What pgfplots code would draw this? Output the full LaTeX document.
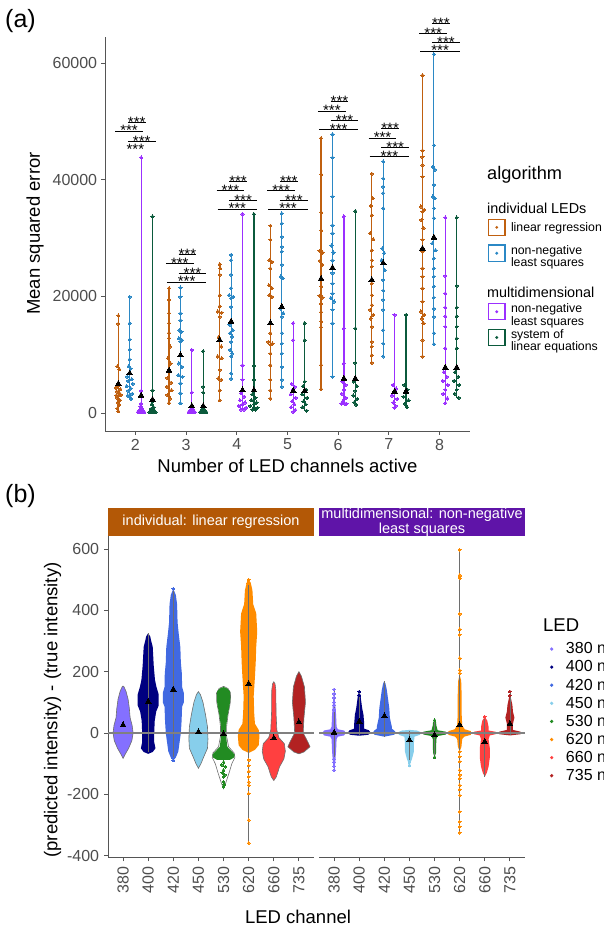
\documentclass[border=0pt]{standalone}
\usepackage{pgfplots}
\pgfplotsset{compat=1.18}
\usepackage{fontspec}
\setmainfont{Liberation Sans}
\definecolor{cOr}{HTML}{C0600F}
\definecolor{cBl}{HTML}{2B88C5}
\definecolor{cPu}{HTML}{9B30FF}
\definecolor{cGr}{HTML}{0B5A3C}
\definecolor{c380}{HTML}{8470FF}
\definecolor{c400}{HTML}{000080}
\definecolor{c420}{HTML}{4169E1}
\definecolor{c450}{HTML}{87CEEB}
\definecolor{c530}{HTML}{228B22}
\definecolor{c620}{HTML}{FF8C00}
\definecolor{c660}{HTML}{FF4040}
\definecolor{c735}{HTML}{B22222}
\definecolor{stripL}{HTML}{B35806}
\definecolor{stripR}{HTML}{5F14A8}
\definecolor{tgray}{HTML}{4D4D4D}
\definecolor{aline}{HTML}{555555}
\definecolor{vgray}{HTML}{6E6E6E}
\definecolor{zgray}{HTML}{808080}
\newcommand{\tf}{\fontsize{16}{19}\selectfont}
\newcommand{\ttl}{\fontsize{18.5}{22}\selectfont}
\newcommand{\lgf}{\fontsize{12.3}{11.2}\selectfont}
\pgfplotsset{
  algkey/.style={legend image code/.code={\draw[draw=#1, fill=none, line width=1.1pt] (0.55pt,-8.2pt) rectangle (16.95pt,8.2pt); \fill[fill=#1, draw=none] (8.75pt,0pt) circle (1.6pt); \path[draw=none, fill=none] (0pt,-12.9pt) rectangle (17.5pt,12.9pt);}},
  spacerkey/.style={legend image code/.code={\path[draw=none, fill=none] (0pt,-#1) rectangle (17.5pt,#1);}},
  ledkey/.style={legend image code/.code={\fill[fill=#1, draw=none] (3.7pt,0pt) circle (1.8pt); \path[draw=none, fill=none] (0pt,-9.05pt) rectangle (14pt,9.05pt);}},
  pts/.style={forget plot, color=#1, only marks, mark=*, mark size=1.6pt, mark options={draw=#1, fill=#1, line width=0pt}},
  vln/.style={forget plot, #1, line width=1.2pt},
  bpts/.style={forget plot, color=#1, only marks, mark=*, mark size=1.4pt, mark options={draw=#1, fill=#1, line width=0pt}},
  blob/.style={forget plot, fill=#1, draw=none},
  vblob/.style={forget plot, fill=#1, draw=vgray, line width=0.6pt},
  mtri/.style={forget plot, black, only marks, mark=triangle*, mark size=3.3pt, mark options={draw=black, fill=black, line width=0pt}},
}
\tikzset{st/.style={anchor=base, inner sep=0pt, font=\fontsize{15}{15}\selectfont, yshift=-4.9pt}}
\begin{document}
\begin{tikzpicture}
\path[use as bounding box] (0pt,0pt) rectangle (604pt,928pt);
% ---------------- panel (a)
\begin{axis}[
 at={(105pt,497pt)}, anchor=south west, scale only axis,
 width=365pt, height=394pt,
 xmin=1.4, xmax=8.6, ymin=-3.086, ymax=64.457,
 axis x line=bottom, axis y line=left,
 axis line style={-, draw=aline, line width=0.9pt},
 xtick={2,3,4,5,6,7,8}, xticklabels={2,3,4,5,6,7,8},
 ytick={0,20,40,60}, yticklabels={0,20000,40000,60000},
 tick align=outside, major tick length=3.7pt,
 tick style={draw=aline, line width=0.9pt},
 ticklabel style={font=\tf, text=tgray, inner sep=0pt},
 xticklabel shift=4pt, yticklabel shift=4pt,
 clip=false, unbounded coords=jump,
 legend style={at={(1.04932,0.5495)}, anchor=north west, draw=none, fill=none, inner sep=0pt, outer sep=0pt, row sep=0pt, nodes={inner sep=0pt, outer sep=0pt}, /tikz/every odd column/.append style={column sep=5.5pt}},
 legend cell align=left,
]
% vertical range lines
\addplot[vln=cOr] coordinates {(1.6625,0.3)(1.6625,16.7)(1.6625,nan)(2.6625,1.7)(2.6625,21.4)(2.6625,nan)(3.6625,2.2)(3.6625,25.5)(3.6625,nan)(4.6625,2.5)(4.6625,32.1)(4.6625,nan)(5.6625,4.1)(5.6625,47.1)(5.6625,nan)(6.6625,8.6)(6.6625,41.0)(6.6625,nan)(7.6625,9.7)(7.6625,57.9)};
\addplot[vln=cBl] coordinates {(1.8875,2.4)(1.8875,19.9)(1.8875,nan)(2.8875,1.7)(2.8875,21.5)(2.8875,nan)(3.8875,5.9)(3.8875,27.1)(3.8875,nan)(4.8875,4.5)(4.8875,34.2)(4.8875,nan)(5.8875,6.2)(5.8875,47.8)(5.8875,nan)(6.8875,9.7)(6.8875,43.1)(6.8875,nan)(7.8875,11.8)(7.8875,61.5)};
\addplot[vln=cPu] coordinates {(2.1125,0.15)(2.1125,43.8)(2.1125,nan)(3.1125,0.15)(3.1125,10.8)(3.1125,nan)(4.1125,0.6)(4.1125,34.1)(4.1125,nan)(5.1125,0.2)(5.1125,15.4)(5.1125,nan)(6.1125,1.6)(6.1125,33.7)(6.1125,nan)(7.1125,0.9)(7.1125,16.8)(7.1125,nan)(8.1125,1.7)(8.1125,33.5)};
\addplot[vln=cGr] coordinates {(2.3375,0.15)(2.3375,33.7)(2.3375,nan)(3.3375,0.15)(3.3375,10.6)(3.3375,nan)(4.3375,0.6)(4.3375,34.1)(4.3375,nan)(5.3375,0.4)(5.3375,15.4)(5.3375,nan)(6.3375,1.4)(6.3375,34.6)(6.3375,nan)(7.3375,1.0)(7.3375,16.8)(7.3375,nan)(8.3375,2.6)(8.3375,33.5)};
% points
\addplot[pts=cOr] coordinates {
(1.6625,16.7)(1.6625,15.3)(1.6425,8.0)(1.6825,7.5)(1.6125,4.3)(1.6525,4.6)(1.7025,4.1)(1.6325,3.7)(1.6825,3.4)(1.6225,3.0)(1.6625,3.0)(1.7125,3.1)(1.6425,2.6)(1.6925,2.2)(1.6525,1.8)(1.6825,1.4)(1.6425,0.8)(1.6625,0.3)
(2.6625,21.4)(2.6625,19.4)(2.6625,17.1)(2.6625,15.4)(2.6625,13.7)(2.6625,12.8)(2.6825,11.4)(2.6425,9.4)(2.6925,8.5)(2.6325,6.0)(2.7025,5.2)(2.6225,4.5)(2.7125,3.9)(2.6325,3.1)(2.6825,2.5)(2.6625,1.7)
(3.6625,25.5)(3.6725,24.8)(3.6625,23.7)(3.6625,20.2)(3.6625,18.3)(3.6225,17.4)(3.7025,17.2)(3.6625,16.5)(3.6425,13.0)(3.6925,11.4)(3.6225,9.7)(3.7025,9.4)(3.6625,7.4)(3.6325,5.9)(3.6925,5.7)(3.6625,3.9)(3.6625,2.2)
(4.6625,32.1)(4.6625,29.7)(4.6425,26.2)(4.6925,25.9)(4.6625,24.8)(4.6325,21.9)(4.6925,21.4)(4.6425,20.2)(4.6925,19.9)(4.6625,13.7)(4.6225,12.2)(4.7025,11.9)(4.6625,11.7)(4.6625,10.2)(4.6625,8.2)(4.6625,5.7)(4.6625,3.9)(4.6625,2.5)
(5.6625,47.1)(5.6625,40.9)(5.6625,34.4)(5.6625,31.3)(5.6325,27.8)(5.6925,27.5)(5.6425,26.1)(5.6825,25.4)(5.6625,21.7)(5.6325,20.1)(5.6925,19.8)(5.6625,18.7)(5.6625,17.3)(5.6625,15.7)(5.6625,14.7)(5.6625,8.2)(5.6625,4.1)
(6.6625,41.0)(6.6825,36.8)(6.6425,35.5)(6.6625,33.9)(6.6325,30.8)(6.6925,29.8)(6.6625,27.9)(6.6625,26.2)(6.6625,25.1)(6.6625,22.2)(6.6625,20.2)(6.6625,18.5)(6.6325,17.7)(6.6925,16.8)(6.6425,16.2)(6.6625,14.8)(6.6625,12.2)(6.6625,11.4)(6.6625,9.9)(6.6625,8.6)
(7.6625,57.9)(7.6625,45.0)(7.6625,43.9)(7.6625,42.5)(7.6625,40.5)(7.6325,35.4)(7.6925,34.8)(7.6625,34.5)(7.6425,33.1)(7.6825,31.7)(7.6625,29.7)(7.6625,27.7)(7.6625,24.8)(7.6625,23.4)(7.6625,21.4)(7.6625,19.1)(7.6325,17.4)(7.6925,16.8)(7.6525,16.2)(7.6825,15.4)(7.6625,12.5)(7.6625,9.7)};
\addplot[pts=cBl] coordinates {
(1.8875,19.9)(1.8875,15.4)(1.8875,12.6)(1.8875,10.9)(1.8875,9.2)(1.8675,8.0)(1.9075,7.6)(1.8375,6.2)(1.9275,5.8)(1.8575,5.5)(1.9475,5.0)(1.8275,4.6)(1.9075,4.2)(1.8575,3.8)(1.9375,3.3)(1.8475,3.0)(1.8975,2.7)(1.9175,2.4)
(2.8875,21.5)(2.8875,19.9)(2.8875,17.1)(2.8875,15.9)(2.8675,14.2)(2.9075,13.9)(2.8575,12.8)(2.9175,12.5)(2.8875,12.3)(2.8575,8.5)(2.9175,7.9)(2.8475,6.5)(2.9275,6.2)(2.8875,5.1)(2.8875,3.4)(2.8875,1.7)
(3.8875,27.1)(3.8875,26.2)(3.8875,23.7)(3.8875,21.4)(3.8475,20.2)(3.9275,19.9)(3.8875,19.7)(3.8875,18.2)(3.8575,15.1)(3.9175,14.2)(3.8675,13.7)(3.9075,13.1)(3.8875,12.2)(3.8675,10.8)(3.9075,10.2)(3.8875,9.7)(3.8875,6.8)(3.8875,5.9)
(4.8875,34.2)(4.8875,32.5)(4.8875,30.2)(4.8875,28.5)(4.8875,27.7)(4.8875,25.4)(4.8675,23.4)(4.9075,23.1)(4.8575,17.9)(4.9175,17.1)(4.8875,16.5)(4.8875,13.7)(4.8875,11.9)(4.8875,10.2)(4.8875,7.9)(4.8875,5.7)(4.8875,4.5)
(5.8875,47.8)(5.8875,43.8)(5.8875,37.1)(5.8875,32.2)(5.8875,30.8)(5.8675,28.7)(5.9075,27.5)(5.8875,26.2)(5.8875,24.0)(5.8875,22.2)(5.8875,20.5)(5.8575,19.7)(5.9175,19.1)(5.8875,17.7)(5.8875,15.4)(5.8875,6.2)
(6.8875,43.1)(6.8875,40.2)(6.8875,38.8)(6.8875,37.7)(6.8875,35.1)(6.8675,28.2)(6.9075,27.4)(6.8575,26.2)(6.9175,24.5)(6.8875,22.8)(6.8875,21.0)(6.8875,19.4)(6.8875,17.7)(6.8875,14.2)(6.8875,11.9)(6.8875,9.7)
(7.8875,61.5)(7.8875,45.9)(7.8675,42.2)(7.9075,41.7)(7.8875,39.1)(7.8675,37.1)(7.9075,36.8)(7.8875,35.1)(7.8875,33.4)(7.8575,29.1)(7.9175,27.9)(7.8875,26.5)(7.8875,24.8)(7.8875,23.4)(7.8875,21.7)(7.8875,19.8)(7.8875,17.9)(7.8875,16.5)(7.8875,13.7)(7.8875,11.8)};
\addplot[pts=cPu] coordinates {
(2.1125,43.8)(2.1125,3.8)(2.1125,1.6)(2.1,1.1)(2.125,0.8)(2.09,0.5)(2.135,0.5)(2.07,0.3)(2.1125,0.3)(2.155,0.3)(2.05,0.15)(2.09,0.15)(2.135,0.15)(2.175,0.15)
(3.1125,10.8)(3.1125,3.5)(3.1125,1.0)(3.09,0.6)(3.135,0.6)(3.07,0.3)(3.1125,0.3)(3.155,0.3)(3.05,0.15)(3.09,0.15)(3.135,0.15)(3.175,0.15)
(4.1125,34.1)(4.1125,8.2)(4.1125,5.7)(4.0825,3.4)(4.1425,2.8)(4.0625,2.2)(4.1625,1.8)(4.1125,1.5)(4.0425,1.2)(4.1825,0.9)(4.0825,0.6)(4.1425,0.6)
(5.1125,15.4)(5.1125,12.5)(5.0825,5.0)(5.1425,4.5)(5.1125,4.0)(5.0625,3.2)(5.1625,2.6)(5.0925,2.0)(5.1325,1.5)(5.0725,1.0)(5.1525,0.5)(5.1125,0.2)
(6.1125,33.7)(6.1125,14.5)(6.1125,8.5)(6.0825,5.4)(6.1425,4.8)(6.1125,4.0)(6.0725,3.3)(6.1525,2.6)(6.0925,2.0)(6.1325,1.6)(6.0625,1.6)(6.1625,1.6)
(7.1125,16.8)(7.0825,4.8)(7.1425,4.2)(7.1125,3.6)(7.0625,3.0)(7.1625,2.4)(7.0925,1.8)(7.1325,1.2)(7.1125,0.9)
(8.1125,33.5)(8.1125,23.5)(8.1125,20.5)(8.1125,18.1)(8.1125,16.6)(8.1125,14.8)(8.1125,11.1)(8.0825,7.0)(8.1425,6.2)(8.0625,5.5)(8.1625,4.8)(8.1125,4.0)(8.0725,3.3)(8.1525,2.5)(8.1125,1.7)};
\addplot[pts=cGr] coordinates {
(2.3375,33.7)(2.3375,3.9)(2.3375,2.0)(2.32,1.5)(2.355,1.0)(2.31,0.7)(2.365,0.5)(2.295,0.3)(2.3375,0.3)(2.38,0.3)(2.275,0.15)(2.315,0.15)(2.36,0.15)(2.40,0.15)
(3.3375,10.6)(3.3375,4.5)(3.3375,3.5)(3.3375,1.0)(3.315,0.6)(3.36,0.6)(3.295,0.3)(3.3375,0.3)(3.38,0.3)(3.275,0.15)(3.315,0.15)(3.36,0.15)(3.40,0.15)
(4.3375,34.1)(4.3375,8.1)(4.3375,5.7)(4.3075,3.2)(4.3675,2.6)(4.2875,2.2)(4.3875,1.8)(4.3375,1.5)(4.2675,1.2)(4.4075,0.9)(4.3075,0.6)(4.3675,0.6)
(5.3375,15.4)(5.3375,12.5)(5.3375,5.4)(5.3075,4.6)(5.3675,4.0)(5.2875,3.2)(5.3875,2.6)(5.3175,2.0)(5.3575,1.5)(5.2975,1.0)(5.3775,0.4)
(6.3375,34.6)(6.3375,14.5)(6.3375,8.6)(6.3075,5.4)(6.3675,4.6)(6.3375,3.8)(6.2975,3.0)(6.3775,2.4)(6.3175,1.8)(6.3575,1.4)
(7.3375,16.8)(7.3075,4.8)(7.3675,4.0)(7.3375,3.4)(7.2875,2.8)(7.3875,2.2)(7.3175,1.6)(7.3575,1.0)
(8.3375,33.5)(8.3375,21.8)(8.3375,18.1)(8.3375,16.6)(8.3375,14.8)(8.3375,12.8)(8.3375,11.1)(8.3075,7.0)(8.3675,6.2)(8.2875,5.5)(8.3875,4.8)(8.3375,4.0)(8.2975,3.3)(8.3775,2.6)};
% means
\addplot[mtri] coordinates {(1.6625,5.0)(2.6625,7.3)(3.6625,12.5)(4.6625,15.4)(5.6625,23.0)(6.6625,22.8)(7.6625,28.2)
(1.8875,6.8)(2.8875,9.9)(3.8875,15.7)(4.8875,18.2)(5.8875,24.9)(6.8875,25.7)(7.8875,30.1)
(2.1125,3.0)(3.1125,1.2)(4.1125,3.9)(5.1125,3.8)(6.1125,5.9)(7.1125,3.7)(8.1125,7.8)
(2.3375,2.3)(3.3375,1.2)(4.3375,3.9)(5.3375,3.8)(6.3375,5.9)(7.3375,3.7)(8.3375,7.8)};
% significance brackets
\addplot[forget plot, black, line width=0.9pt] coordinates {
(1.85,49.77)(2.20,49.77)(2,nan)(1.60,48.34)(2.15,48.34)(2,nan)(1.85,46.58)(2.40,46.58)(2,nan)
(2.85,27.21)(3.20,27.21)(3,nan)(2.60,25.60)(3.15,25.60)(3,nan)(2.85,23.95)(3.40,23.95)(3,nan)(2.62,22.46)(3.40,22.46)(3,nan)
(3.85,39.65)(4.20,39.65)(4,nan)(3.60,38.11)(4.15,38.11)(4,nan)(3.85,36.46)(4.40,36.46)(4,nan)(3.62,34.97)(4.40,34.97)(4,nan)
(4.85,39.65)(5.20,39.65)(5,nan)(4.60,38.11)(5.15,38.11)(5,nan)(4.85,36.46)(5.40,36.46)(5,nan)(4.62,34.97)(5.40,34.97)(5,nan)
(5.85,53.37)(6.20,53.37)(6,nan)(5.60,51.77)(6.15,51.77)(6,nan)(5.85,50.11)(6.40,50.11)(6,nan)(5.62,48.57)(6.40,48.57)(6,nan)
(6.85,48.74)(7.20,48.74)(7,nan)(6.60,47.14)(7.15,47.14)(7,nan)(6.85,45.55)(7.40,45.55)(7,nan)(6.62,44.01)(7.40,44.01)(7,nan)
(7.85,66.74)(8.20,66.74)(8,nan)(7.60,65.09)(8.15,65.09)(8,nan)(7.85,63.48)(8.40,63.48)(8,nan)(7.62,62.06)(8.40,62.06)};
\node[st] at (axis cs:2.025,49.77) {***}; \node[st] at (axis cs:1.875,48.34) {***}; \node[st] at (axis cs:2.125,46.58) {***}; \node[st] at (axis cs:2.0,45.09) {***};
\node[st] at (axis cs:3.025,27.21) {***}; \node[st] at (axis cs:2.875,25.60) {***}; \node[st] at (axis cs:3.125,23.95) {***}; \node[st] at (axis cs:3.01,22.46) {***};
\node[st] at (axis cs:4.025,39.65) {***}; \node[st] at (axis cs:3.875,38.11) {***}; \node[st] at (axis cs:4.125,36.46) {***}; \node[st] at (axis cs:4.01,34.97) {***};
\node[st] at (axis cs:5.025,39.65) {***}; \node[st] at (axis cs:4.875,38.11) {***}; \node[st] at (axis cs:5.125,36.46) {***}; \node[st] at (axis cs:5.01,34.97) {***};
\node[st] at (axis cs:6.025,53.37) {***}; \node[st] at (axis cs:5.875,51.77) {***}; \node[st] at (axis cs:6.125,50.11) {***}; \node[st] at (axis cs:6.01,48.57) {***};
\node[st] at (axis cs:7.025,48.74) {***}; \node[st] at (axis cs:6.875,47.14) {***}; \node[st] at (axis cs:7.125,45.55) {***}; \node[st] at (axis cs:7.01,44.01) {***};
\node[st] at (axis cs:8.025,66.74) {***}; \node[st] at (axis cs:7.875,65.09) {***}; \node[st] at (axis cs:8.125,63.48) {***}; \node[st] at (axis cs:8.01,62.06) {***};
% legend
\addlegendimage{algkey=cOr}\addlegendentry{\lgf linear regression}
\addlegendimage{algkey=cBl}\addlegendentry{\parbox[c]{110pt}{\lgf non-negative\\least squares}}
\addlegendimage{spacerkey=16.35pt}\addlegendentry{}
\addlegendimage{algkey=cPu}\addlegendentry{\parbox[c]{110pt}{\lgf non-negative\\least squares}}
\addlegendimage{algkey=cGr}\addlegendentry{\parbox[c]{110pt}{\lgf system of\\linear equations}}
\end{axis}
% ---------------- panel (b) left
\begin{axis}[
 at={(108pt,70.2pt)}, anchor=south west, scale only axis,
 width=206pt, height=321.4pt,
 xmin=0.4, xmax=8.6, ymin=-407, ymax=641,
 axis x line=bottom, axis y line=left,
 axis line style={-, draw=aline, line width=0.9pt},
 xtick={1,2,3,4,5,6,7,8}, xticklabels={380,400,420,450,530,620,660,735},
 ytick={-400,-200,0,200,400,600}, yticklabels={-400,-200,0,200,400,600},
 tick align=outside, major tick length=3.7pt,
 tick style={draw=aline, line width=0.9pt},
 ticklabel style={font=\tf, text=tgray, inner sep=0pt},
 xticklabel style={rotate=90, anchor=east},
 xticklabel shift=5pt, yticklabel shift=5pt,
]
\addplot[vblob=c380] coordinates {(1,-83)(1.08,-70)(1.22,-50)(1.35,-25)(1.4,0)(1.36,25)(1.28,50)(1.25,80)(1.2,110)(1.12,135)(1.04,150)(1,153)(0.96,150)(0.88,135)(0.8,110)(0.75,80)(0.72,50)(0.64,25)(0.6,0)(0.65,-25)(0.78,-50)(0.92,-70)} --cycle;
\addplot[blob=c400] coordinates {(2,-68)(2.18,-62)(2.29,-50)(2.24,-30)(2.24,0)(2.26,40)(2.32,70)(2.42,90)(2.42,125)(2.33,150)(2.27,173)(2.22,220)(2.18,281)(2.12,300)(2.08,315)(2,325)(1.92,315)(1.88,300)(1.82,281)(1.78,220)(1.73,173)(1.67,150)(1.58,125)(1.58,90)(1.68,70)(1.74,40)(1.76,0)(1.76,-30)(1.71,-50)(1.82,-62)} --cycle;
\addplot[blob=c420] coordinates {(3,-90)(3.1,-80)(3.2,-60)(3.25,-30)(3.3,0)(3.33,40)(3.35,86)(3.42,100)(3.42,130)(3.35,150)(3.34,194)(3.3,230)(3.28,280)(3.22,320)(3.17,360)(3.15,420)(3.1,450)(3,470)(2.9,450)(2.85,420)(2.83,360)(2.78,320)(2.72,280)(2.7,230)(2.66,194)(2.65,150)(2.58,130)(2.58,100)(2.65,86)(2.67,40)(2.7,0)(2.75,-30)(2.8,-60)(2.9,-80)} --cycle;
\addplot[vblob=c450] coordinates {(4,-115)(4.1,-100)(4.2,-80)(4.36,-50)(4.38,-20)(4.36,20)(4.28,60)(4.18,100)(4.08,125)(4,135)(3.92,125)(3.82,100)(3.72,60)(3.64,20)(3.62,-20)(3.64,-50)(3.8,-80)(3.9,-100)} --cycle;
\addplot[forget plot, draw=vgray, line width=0.6pt] coordinates {(5,-182)(5.1,-160)(5.22,-130)(5.33,-100)(5.45,-80)(5.42,-65)(5.2,-45)(5.12,-10)(5.12,20)(5.18,60)(5.27,100)(5.28,130)(5.18,145)(5,152)(4.82,145)(4.72,130)(4.73,100)(4.82,60)(4.88,20)(4.88,-10)(4.8,-45)(4.58,-65)(4.55,-80)(4.67,-100)(4.78,-130)(4.9,-160)} --cycle;
\addplot[blob=c530] coordinates {(5.25,-88)(5.42,-80)(5.44,-70)(5.3,-58)(5.15,-45)(5.1,-10)(5.1,20)(5.17,60)(5.24,90)(5.27,110)(5.26,135)(5.15,145)(5,150)(4.85,145)(4.74,135)(4.73,110)(4.76,90)(4.83,60)(4.9,20)(4.9,-10)(4.85,-45)(4.7,-58)(4.56,-70)(4.58,-80)(4.75,-88)} --cycle;
\addplot[blob=c620] coordinates {(6,-65)(6.25,-55)(6.4,-40)(6.43,-10)(6.4,10)(6.25,30)(6.22,64)(6.2,120)(6.25,184)(6.28,230)(6.3,281)(6.34,330)(6.3,390)(6.18,420)(6.15,465)(6.08,490)(6,500)(5.92,490)(5.85,465)(5.82,420)(5.7,390)(5.66,330)(5.7,281)(5.72,230)(5.75,184)(5.8,120)(5.78,64)(5.75,30)(5.6,10)(5.57,-10)(5.6,-40)(5.75,-55)} --cycle;
\addplot[vblob=c660] coordinates {(7,-155)(7.1,-143)(7.23,-110)(7.4,-85)(7.46,-60)(7.42,-35)(7.2,-15)(7.12,10)(7.09,64)(7.08,140)(7.05,160)(7,167)(6.95,160)(6.92,140)(6.91,64)(6.88,10)(6.8,-15)(6.58,-35)(6.54,-60)(6.6,-85)(6.77,-110)(6.9,-143)} --cycle;
\addplot[vblob=c735] coordinates {(8,-68)(8.2,-62)(8.44,-45)(8.36,-30)(8.17,0)(8.2,50)(8.26,100)(8.22,150)(8.1,185)(8,200)(7.9,185)(7.78,150)(7.74,100)(7.8,50)(7.83,0)(7.64,-30)(7.56,-45)(7.8,-62)} --cycle;
\addplot[forget plot, draw=vgray, line width=0.7pt, unbounded coords=jump] coordinates {(2,-62)(2,325)(2,nan)(3,-90)(3,470)(3,nan)(6,-359)(6,500)};
\addplot[bpts=c530] coordinates {(5,-95)(4.93,-104)(5.07,-110)(5,-121)(4.95,-130)(5.05,-137)(5,-143)(5,-159)(5.03,-168)(5,-175)};
\addplot[bpts=c620] coordinates {(6,-88)(6,-106)(6,-125)(6,-143)(6,-160)(6,-170)(6,-197)(6,-284)(6,-359)(6,500)(5.97,488)};
\addplot[bpts=c420] coordinates {(3,470)(3,-90)(2.97,-80)};
\addplot[forget plot, zgray, line width=1.1pt] coordinates {(0.4,0)(8.6,0)};
\addplot[mtri] coordinates {(1,26)(2,102)(3,142)(4,3)(5,-3)(6,160)(7,-17)(8,35)};
\end{axis}
% ---------------- panel (b) right
\begin{axis}[
 at={(319pt,70.2pt)}, anchor=south west, scale only axis,
 width=206pt, height=321.4pt,
 xmin=0.4, xmax=8.6, ymin=-407, ymax=641,
 axis x line=bottom, axis y line=none,
 axis line style={-, draw=aline, line width=0.9pt},
 xtick={1,2,3,4,5,6,7,8}, xticklabels={380,400,420,450,530,620,660,735},
 ytick=\empty,
 tick align=outside, major tick length=3.7pt,
 tick style={draw=aline, line width=0.9pt},
 ticklabel style={font=\tf, text=tgray, inner sep=0pt},
 xticklabel style={rotate=90, anchor=east},
 xticklabel shift=5pt,
 legend style={at={(1.11165,0.6777)}, anchor=north west, draw=none, fill=none, inner sep=0pt, outer sep=0pt, row sep=0pt, nodes={inner sep=0pt, outer sep=0pt}, /tikz/every odd column/.append style={column sep=4pt}},
 legend cell align=left,
]
\addplot[blob=c380] coordinates {(1,-121)(1.04,-100)(1.08,-60)(1.1,-20)(1.15,-12)(1.4,-8)(1.44,-3)(1.44,3)(1.4,8)(1.15,12)(1.1,20)(1.08,60)(1.04,100)(1,142)(0.96,100)(0.92,60)(0.9,20)(0.85,12)(0.6,8)(0.56,3)(0.56,-3)(0.6,-8)(0.85,-12)(0.9,-20)(0.92,-60)(0.96,-100)} --cycle;
\addplot[blob=c400] coordinates {(2,-9)(2.35,-6)(2.43,-2)(2.43,4)(2.38,9)(2.2,14)(2.2,30)(2.17,60)(2.12,80)(2.07,110)(2.05,125)(2,135)(1.95,125)(1.93,110)(1.88,80)(1.83,60)(1.8,30)(1.8,14)(1.62,9)(1.57,4)(1.57,-2)(1.65,-6)} --cycle;
\addplot[blob=c420] coordinates {(3,-12)(3.38,-6)(3.44,-2)(3.44,4)(3.38,9)(3.3,14)(3.3,20)(3.22,50)(3.2,80)(3.15,110)(3.1,140)(3.05,160)(3,170)(2.95,160)(2.9,140)(2.85,110)(2.8,80)(2.78,50)(2.7,20)(2.7,14)(2.62,9)(2.56,4)(2.56,-2)(2.62,-6)} --cycle;
\addplot[blob=c450] coordinates {(4,-112)(4.05,-95)(4.1,-85)(4.18,-60)(4.18,-30)(4.2,-12)(4.42,-6)(4.44,3)(4.3,8)(4,10)(3.7,8)(3.56,3)(3.58,-6)(3.8,-12)(3.82,-30)(3.82,-60)(3.9,-85)(3.95,-95)} --cycle;
\addplot[blob=c530] coordinates {(5,-79)(5.06,-65)(5.07,-20)(5.12,-10)(5.45,-5)(5.45,4)(5.12,9)(5.07,25)(5.06,35)(5,42)(4.94,35)(4.93,25)(4.88,9)(4.55,4)(4.55,-5)(4.88,-10)(4.93,-20)(4.94,-65)} --cycle;
\addplot[blob=c620] coordinates {(6,-60)(6.07,-45)(6.1,-20)(6.18,-12)(6.45,-6)(6.45,6)(6.2,12)(6.1,25)(6.08,60)(6.08,120)(6.06,170)(6,190)(5.94,170)(5.92,120)(5.92,60)(5.9,25)(5.8,12)(5.55,6)(5.55,-6)(5.82,-12)(5.9,-20)(5.93,-45)} --cycle;
\addplot[blob=c660] coordinates {(7,-143)(7.08,-130)(7.15,-110)(7.2,-80)(7.2,-50)(7.15,-20)(7.2,-8)(7.43,-4)(7.43,4)(7.15,8)(7.15,20)(7.1,40)(7,53)(6.9,40)(6.85,20)(6.85,8)(6.57,4)(6.57,-4)(6.8,-8)(6.85,-20)(6.8,-50)(6.8,-80)(6.85,-110)(6.92,-130)} --cycle;
\addplot[blob=c735] coordinates {(8,-8)(8.43,-4)(8.43,4)(8.12,10)(8.12,30)(8.18,50)(8.12,70)(8.1,90)(8.05,110)(8,125)(7.95,110)(7.9,90)(7.88,70)(7.82,50)(7.88,30)(7.88,10)(7.57,4)(7.57,-4)} --cycle;
\addplot[forget plot, draw=vgray, line width=0.7pt, unbounded coords=jump] coordinates {(1,-121)(1,142)(1,nan)(2,-7)(2,135)(2,nan)(3,-12)(3,170)(3,nan)(4,-112)(4,8)(4,nan)(5,-79)(5,42)(5,nan)(6,-325)(6,597)(6,nan)(7,-143)(7,53)(7,nan)(8,-7)(8,135)};
\addplot[bpts=c380] coordinates {(1,142)(1,128)(1,115)(1,100)(1,90)(1,75)(1,-85)(1,-95)(1,-108)(1,-121)};
\addplot[bpts=c400] coordinates {(2,135)(2,122)};
\addplot[bpts=c450] coordinates {(4,-95)(4,-105)};
\addplot[bpts=c530] coordinates {(5,42)(5,-79)};
\addplot[bpts=c620] coordinates {(6,597)(6,515)(6,510)(6,505)(6,388)(6,338)(6,320)(6,244)(6,205)(6,195)(6,-61)(6,-77)(6,-93)(6,-121)(6,-137)(6,-148)(6,-170)(6,-184)(6,-203)(6,-257)(6,-290)(6,-306)(6,-325)};
\addplot[bpts=c660] coordinates {(7,53)};
\addplot[bpts=c735] coordinates {(8,135)(8,122)};
\addplot[forget plot, zgray, line width=1.1pt] coordinates {(0.4,0)(8.6,0)};
\addplot[mtri] coordinates {(1,1)(2,37)(3,55)(4,-23)(5,-7)(6,26)(7,-29)(8,30)};
\addlegendimage{ledkey=c380}\addlegendentry{\tf 380 nm}
\addlegendimage{ledkey=c400}\addlegendentry{\tf 400 nm}
\addlegendimage{ledkey=c420}\addlegendentry{\tf 420 nm}
\addlegendimage{ledkey=c450}\addlegendentry{\tf 450 nm}
\addlegendimage{ledkey=c530}\addlegendentry{\tf 530 nm}
\addlegendimage{ledkey=c620}\addlegendentry{\tf 620 nm}
\addlegendimage{ledkey=c660}\addlegendentry{\tf 660 nm}
\addlegendimage{ledkey=c735}\addlegendentry{\tf 735 nm}
\end{axis}
% strips
\fill[stripL] (108pt,392pt) rectangle (314pt,420pt);
\fill[stripR] (319pt,392pt) rectangle (525pt,420pt);
\node[text=white, inner sep=0pt, font=\fontsize{14.5}{13}\selectfont] at (211pt,406.3pt) {individual: linear regression};
\node[text=white, inner sep=0pt, align=center, font=\fontsize{14.5}{13}\selectfont] at (422pt,405.5pt) {multidimensional: non-negative\\least squares};
% texts
\node[anchor=west, inner sep=0pt, font=\fontsize{25}{30}\selectfont] at (5pt,906.5pt) {(a)};
\node[anchor=west, inner sep=0pt, font=\fontsize{25}{30}\selectfont] at (5pt,432pt) {(b)};
\node[rotate=90, inner sep=0pt, font=\ttl] at (35pt,694.5pt) {Mean squared error};
\node[inner sep=0pt, font=\ttl] at (287.5pt,462pt) {Number of LED channels active};
\node[rotate=90, inner sep=0pt, font=\ttl] at (52.5pt,218pt) {(predicted intensity) - (true intensity)};
\node[inner sep=0pt, font=\ttl] at (298pt,11.3pt) {LED channel};
\node[anchor=west, inner sep=0pt, font=\fontsize{18.2}{22}\selectfont] at (487pt,753pt) {algorithm};
\node[anchor=west, inner sep=0pt, font=\fontsize{14.4}{17}\selectfont] at (487pt,720pt) {individual LEDs};
\node[anchor=west, inner sep=0pt, font=\fontsize{14.4}{17}\selectfont] at (487pt,636pt) {multidimensional};
\node[anchor=west, inner sep=0pt, font=\ttl] at (543pt,303pt) {LED};
\end{tikzpicture}
\end{document}
